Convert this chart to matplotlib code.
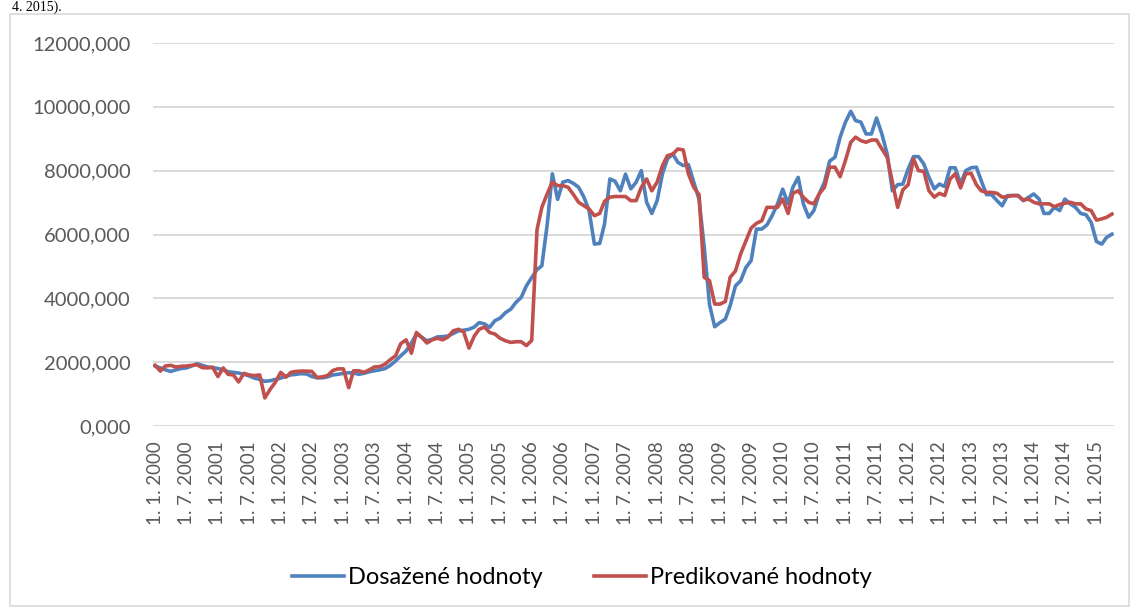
import pandas as pd
import numpy as np
import matplotlib.pyplot as plt
from matplotlib.patches import Rectangle

# monthly values, 1. 1. 2000 - 1. 4. 2015
dates = pd.date_range('2000-01-01', '2015-04-01', freq='MS')

dosazene = [
    1880, 1820, 1760, 1710, 1760, 1800, 1820, 1880, 1950, 1900, 1850, 1830,
    1800, 1760, 1700, 1680, 1660, 1620, 1570, 1500, 1460, 1400, 1420, 1460,
    1500, 1560, 1600, 1620, 1640, 1630, 1550, 1510, 1510, 1540, 1600, 1620,
    1650, 1670, 1660, 1620, 1650, 1700, 1730, 1760, 1800, 1900, 2040, 2200,
    2350, 2600, 2880, 2780, 2670, 2720, 2790, 2800, 2820, 2900, 2980, 3000,
    3030, 3100, 3240, 3200, 3090, 3300, 3380, 3550, 3660, 3870, 4030, 4390,
    4650, 4900, 5020, 6300, 7900, 7100, 7640, 7690, 7600, 7480, 7170, 6750,
    5700, 5720, 6330, 7740, 7670, 7370, 7890, 7430, 7640, 8000, 7010, 6660,
    7060, 7900, 8370, 8520, 8260, 8160, 8190, 7640, 7100, 5600, 3800, 3110,
    3240, 3350, 3770, 4390, 4550, 4970, 5180, 6170, 6170, 6300, 6600, 6950,
    7420, 6960, 7480, 7790, 6960, 6540, 6750, 7270, 7640, 8300, 8420, 9050,
    9520, 9860, 9570, 9520, 9150, 9150, 9650, 9150, 8520, 7370, 7560, 7580,
    8050, 8440, 8440, 8210, 7790, 7430, 7580, 7500, 8090, 8090, 7580, 8000,
    8090, 8110, 7690, 7250, 7250, 7060, 6900, 7220, 7220, 7220, 7060, 7165,
    7270, 7110, 6660, 6660, 6850, 6750, 7110, 6960, 6850, 6660, 6620, 6380,
    5780, 5700, 5910, 6010,
]

predikovane = [
    1900, 1720, 1880, 1900, 1850, 1870, 1880, 1900, 1920, 1830, 1820, 1840,
    1550, 1820, 1620, 1600, 1380, 1650, 1600, 1580, 1600, 880, 1150, 1370,
    1680, 1530, 1680, 1710, 1720, 1720, 1710, 1520, 1540, 1580, 1740, 1790,
    1790, 1200, 1730, 1730, 1680, 1760, 1850, 1860, 1940, 2080, 2200, 2580,
    2700, 2280, 2930, 2780, 2600, 2700, 2750, 2700, 2790, 2980, 3030, 2950,
    2440, 2820, 3030, 3100, 2930, 2880, 2750, 2670, 2620, 2640, 2640, 2520,
    2680, 6150, 6850, 7270, 7640, 7530, 7530, 7480, 7250, 7010, 6900, 6800,
    6590, 6660, 7040, 7170, 7190, 7190, 7190, 7060, 7060, 7480, 7740, 7370,
    7640, 8160, 8470, 8520, 8680, 8650, 7900, 7480, 7250, 4660, 4550, 3820,
    3820, 3900, 4660, 4860, 5390, 5800, 6200, 6350, 6430, 6850, 6850, 6850,
    7110, 6660, 7290, 7370, 7165, 7010, 6960, 7270, 7480, 8110, 8110, 7810,
    8320, 8890, 9050, 8940, 8890, 8960, 8960, 8680, 8420, 7640, 6850, 7400,
    7560, 8370, 8000, 7980, 7370, 7170, 7290, 7220, 7740, 7900, 7460, 7900,
    7920, 7560, 7370, 7320, 7320, 7290, 7170, 7190, 7220, 7220, 7080, 7110,
    7010, 6960, 6960, 6960, 6870, 6940, 6980, 7010, 6960, 6960, 6800, 6750,
    6450, 6490, 6540, 6640,
]

tick_dates = pd.date_range('2000-01-01', '2015-01-01', freq='6MS')
tick_labels = [f'{d.day}. {d.month}. {d.year}' for d in tick_dates]
y_ticks = [0, 2000, 4000, 6000, 8000, 10000, 12000]
y_labels = [f'{v:.3f}'.replace('.', ',') for v in y_ticks]

W, H = 1132, 609
fig = plt.figure(figsize=(W / 100, H / 100), dpi=100)
fig.patches.append(Rectangle((10 / W, 1 - 606 / H), 1119 / W, 592 / H,
                             transform=fig.transFigure, fill=False,
                             edgecolor='#D9D9D9', lw=1.2))
# tail of the page caption above the chart
fig.text(12 / W, 1 - 11 / H, '4. 2015).', fontsize=10, family='Liberation Serif',
         color='black', va='baseline')

ax = fig.add_axes([153 / W, 1 - 426 / H, (1114 - 153) / W, (426 - 43) / H])
ax.plot(dates, dosazene, color='#4F81BD', lw=2.6, label='Dosažené hodnoty')
ax.plot(dates, predikovane, color='#C0504D', lw=2.6, label='Predikované hodnoty')

ax.set_ylim(0, 12000)
ax.set_xlim(dates[0] - pd.Timedelta(days=12), dates[-1] + pd.Timedelta(days=12))
ax.set_yticks(y_ticks)
ax.set_yticklabels(y_labels, family='Lato', fontsize=14.5, color='#595959')
ax.set_xticks(tick_dates)
ax.set_xticklabels(tick_labels, rotation=90, family='Lato', fontsize=13.5,
                   color='#595959', va='top')
ax.tick_params(axis='y', length=0, pad=16)
ax.tick_params(axis='x', length=0, pad=11)
ax.grid(axis='y', color='#D9D9D9', lw=1.4)
ax.set_axisbelow(True)
for s in ax.spines.values():
    s.set_visible(False)

fig.legend(loc='center', bbox_to_anchor=(582 / W, 1 - 578 / H), ncol=2,
           frameon=False, prop={'family': 'Lato', 'size': 17},
           handlelength=2.2, handletextpad=0.15, columnspacing=2.2)

fig.savefig('out.png', dpi=100)
